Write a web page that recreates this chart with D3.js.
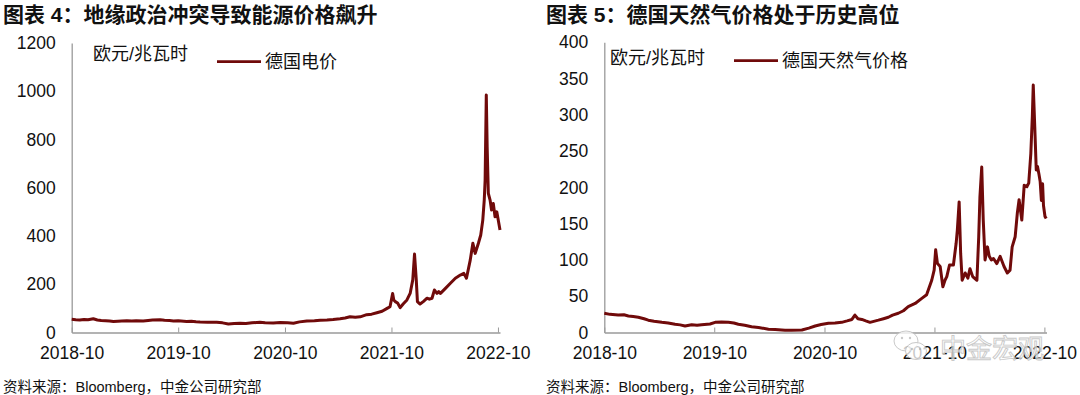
<!DOCTYPE html>
<html>
<head>
    <meta charset="utf-8">
    <title>德国能源价格</title>
    <style>
        body { margin: 0; background: #fff; }
        svg { font-family: "Liberation Sans", Arial, "Noto Sans CJK SC", sans-serif; }
    </style>
</head>
<body>
    <div id="chart"></div>

    <script src="https://cdn.jsdelivr.net/npm/d3@7/dist/d3.min.js"></script>

    <script>
        // ---- data ----
        const elecDates = ["2018-10-01","2018-10-15","2018-10-29","2018-11-12","2018-11-26","2018-12-14","2018-12-28",
            "2019-01-10","2019-01-25","2019-02-08","2019-02-21","2019-03-08","2019-03-22","2019-04-08","2019-04-25",
            "2019-05-10","2019-06-03","2019-06-20","2019-07-05","2019-07-31","2019-08-15","2019-09-01","2019-09-15",
            "2019-10-01","2019-10-30","2019-11-15","2019-12-01","2019-12-15","2020-01-10","2020-02-10","2020-03-01",
            "2020-03-21","2020-04-10","2020-04-30","2020-05-20","2020-06-10","2020-07-07","2020-07-25","2020-08-22",
            "2020-09-15","2020-10-10","2020-10-30","2020-11-20","2020-12-15","2021-01-10","2021-01-30","2021-02-22",
            "2021-03-15","2021-04-08","2021-04-25","2021-05-12","2021-05-30","2021-06-16","2021-07-08","2021-07-25",
            "2021-08-12","2021-08-30","2021-09-16","2021-09-26","2021-10-05","2021-10-09","2021-10-14","2021-10-22",
            "2021-10-31","2021-11-10","2021-11-23","2021-12-04","2021-12-13","2021-12-19","2021-12-25","2021-12-29",
            "2022-01-07","2022-01-18","2022-01-31","2022-02-08","2022-02-17","2022-02-25","2022-03-06","2022-03-12",
            "2022-03-18","2022-04-04","2022-04-21","2022-05-08","2022-05-25","2022-06-06","2022-06-15","2022-06-28",
            "2022-07-07","2022-07-15","2022-07-26","2022-08-03","2022-08-10","2022-08-15","2022-08-18","2022-08-22",
            "2022-08-25","2022-08-29","2022-09-04","2022-09-09","2022-09-15","2022-09-21","2022-09-27","2022-10-02",
            "2022-10-08"];
        const elecValues = [55,53,52,54,53,57,52,
            50,49,48,46,47,48,49,48,
            49,48,50,52,53,51,50,48,
            49,46,47,45,44,43,42,40,
            35,37,38,37,40,42,40,39,
            41,40,38,44,48,49,51,52,
            54,57,60,65,63,65,74,76,
            82,88,100,107,162,135,128,122,
            103,118,135,162,218,325,218,128,
            118,128,142,138,142,176,162,170,
            162,183,204,225,238,245,225,300,
            370,328,370,404,466,549,632,984,
            770,577,549,508,535,480,500,466,
            425];

        const gasDates = ["2018-10-01","2018-10-20","2018-11-16","2018-12-05","2018-12-20","2019-01-05","2019-01-22",
            "2019-02-10","2019-02-24","2019-03-15","2019-04-10","2019-05-01","2019-05-24","2019-06-10","2019-06-26",
            "2019-07-18","2019-08-05","2019-08-20","2019-09-17","2019-10-04","2019-10-25","2019-11-17","2019-12-05",
            "2019-12-20","2020-01-10","2020-02-02","2020-02-25","2020-03-29","2020-04-20","2020-05-23","2020-06-14",
            "2020-07-18","2020-08-10","2020-08-31","2020-09-20","2020-10-14","2020-11-05","2020-11-27","2020-12-15",
            "2020-12-31","2021-01-10","2021-01-20","2021-02-02","2021-02-15","2021-03-01","2021-03-29","2021-04-15",
            "2021-05-01","2021-05-15","2021-06-03","2021-06-20","2021-07-06","2021-07-29","2021-08-20","2021-09-05",
            "2021-09-22","2021-09-30","2021-10-05","2021-10-11","2021-10-20","2021-10-29","2021-11-05","2021-11-11",
            "2021-11-20","2021-12-03","2021-12-12","2021-12-16","2021-12-22","2021-12-27","2022-01-01","2022-01-11",
            "2022-01-20","2022-01-27","2022-02-05","2022-02-19","2022-02-25","2022-03-01","2022-03-07","2022-03-12",
            "2022-03-18","2022-03-26","2022-04-01","2022-04-08","2022-04-15","2022-04-26","2022-05-07","2022-05-20",
            "2022-05-31","2022-06-09","2022-06-16","2022-06-26","2022-07-03","2022-07-09","2022-07-18","2022-07-26",
            "2022-08-04","2022-08-10","2022-08-17","2022-08-22","2022-08-25","2022-08-30","2022-09-04","2022-09-08",
            "2022-09-13","2022-09-17","2022-09-21","2022-09-25","2022-09-28","2022-10-03","2022-10-07"];
        const gasValues = [26.5,25,24,24.5,22.8,22,21,
            19,17,15.5,14,13,11.3,10.5,9,
            10.8,10,10.8,11.7,14,14.5,14,13,
            11.3,10,8,7,4.4,4,3,3,
            3.4,6,9,11,12.7,13,14,16,
            18,24,19,18,16,14,17,19,
            21,24,26.5,30,35.6,40,47,52,
            72,86,114,95,91,63,72,77,
            93,93,123,141,180,109,72,82,
            75,88,77,72,132,187,228,155,
            100,118,105,100,102,95,105,91,
            82,86,118,132,164,183,155,203,
            201,206,247,298,341,284,224,229,
            218,208,182,205,175,160,157];

        const xTickDates = ["2018-10-01","2019-10-01","2020-10-01","2021-10-01","2022-10-01"];
        const xTickLabels = ["2018-10","2019-10","2020-10","2021-10","2022-10"];
        const elecTicks = [0,200,400,600,800,1000,1200];
        const gasTicks = [0,50,100,150,200,250,300,350,400];

        const parse = d3.timeParse("%Y-%m-%d");
        const startDate = parse("2018-10-01");
        const endDate = parse("2022-10-08");
        const lineColor = "#700a0a";
        const axisColor = "#9a9a9a";

        const svg = d3.select("#chart")
                      .append("svg")
                      .attr("width", 1080)
                      .attr("height", 395);

        function drawPanel(opt) {
            const x = d3.scaleTime()
                        .domain([startDate, endDate])
                        .range([opt.left, opt.right]);
            const y = d3.scaleLinear()
                        .domain([0, opt.ticks[opt.ticks.length - 1]])
                        .range([332.5, opt.top]);

            // title
            svg.append("text")
               .attr("x", opt.titleX)
               .attr("y", 14.5)
               .attr("dominant-baseline", "central")
               .attr("font-size", 21)
               .attr("font-weight", "bold")
               .attr("fill", "#111")
               .text(opt.title);

            // x axis, ticks pointing up
            const xAxis = d3.axisBottom(x)
                            .tickValues(xTickDates.map(parse))
                            .tickFormat((d, i) => xTickLabels[i])
                            .tickSizeInner(-5)
                            .tickSizeOuter(0)
                            .tickPadding(14);
            const gx = svg.append("g")
                          .attr("transform", `translate(0, 332.5)`)
                          .call(xAxis);
            gx.attr("font-family", null).attr("font-size", null).style("color", axisColor);
            gx.selectAll("text").attr("fill", "#111").attr("font-size", 17.5);
            gx.select(".domain").attr("stroke-width", 1.3);

            // y axis, no ticks
            const yAxis = d3.axisLeft(y)
                            .tickValues(opt.ticks)
                            .tickFormat(d3.format("d"))
                            .tickSize(0)
                            .tickPadding(16);
            const gy = svg.append("g")
                          .attr("transform", `translate(${opt.left}, 0)`)
                          .call(yAxis);
            gy.attr("font-family", null).attr("font-size", null).style("color", axisColor);
            gy.selectAll("text").attr("fill", "#111").attr("font-size", 17.5);
            gy.select(".domain").attr("stroke-width", 1.3);

            // series
            const data = opt.dates.map((d, i) => ({date: parse(d), value: opt.values[i]}));
            const line = d3.line()
                           .x(d => x(d.date))
                           .y(d => y(d.value));
            svg.append("path")
               .datum(data)
               .attr("fill", "none")
               .attr("stroke", lineColor)
               .attr("stroke-width", 3)
               .attr("stroke-linejoin", "round")
               .attr("d", line);

            // unit + legend
            svg.append("text")
               .attr("x", opt.unitX)
               .attr("y", opt.unitY)
               .attr("dominant-baseline", "central")
               .attr("font-size", 18)
               .attr("fill", "#111")
               .text("欧元/兆瓦时");
            svg.append("line")
               .attr("x1", opt.legX)
               .attr("x2", opt.legX + 44)
               .attr("y1", opt.legY)
               .attr("y2", opt.legY)
               .attr("stroke", lineColor)
               .attr("stroke-width", 2.7);
            svg.append("text")
               .attr("x", opt.legX + 48)
               .attr("y", opt.legY)
               .attr("dominant-baseline", "central")
               .attr("font-size", 18)
               .attr("fill", "#111")
               .text(opt.legend);

            // source
            svg.append("text")
               .attr("x", opt.titleX)
               .attr("y", 386.5)
               .attr("dominant-baseline", "central")
               .attr("font-size", 14.5)
               .attr("fill", "#111")
               .text("资料来源：Bloomberg，中金公司研究部");
        }

        drawPanel({
            title: "图表 4：地缘政治冲突导致能源价格飙升",
            titleX: 3,
            left: 71.7, right: 500, top: 43,
            ticks: elecTicks,
            dates: elecDates, values: elecValues,
            unitX: 93, unitY: 53.5,
            legX: 217, legY: 61.7,
            legend: "德国电价"
        });

        drawPanel({
            title: "图表 5：德国天然气价格处于历史高位",
            titleX: 546,
            left: 604.3, right: 1046.5, top: 42.3,
            ticks: gasTicks,
            dates: gasDates, values: gasValues,
            unitX: 610, unitY: 58.3,
            legX: 734, legY: 60.7,
            legend: "德国天然气价格"
        });

        // watermark (WeChat-style bubbles + account name), drawn over the axis like the original
        const wm = svg.append("g").attr("opacity", 0.9);
        wm.append("ellipse").attr("cx", 906).attr("cy", 341).attr("rx", 12).attr("ry", 10)
          .attr("fill", "#fff").attr("fill-opacity", 0.85).attr("stroke", "#c4c4c4").attr("stroke-width", 1);
        wm.append("ellipse").attr("cx", 916).attr("cy", 351).attr("rx", 10.5).attr("ry", 8.5)
          .attr("fill", "#fff").attr("fill-opacity", 0.85).attr("stroke", "#c4c4c4").attr("stroke-width", 1);
        [[902, 338], [910, 338], [912, 349], [920, 349]].forEach(p => {
            wm.append("circle").attr("cx", p[0]).attr("cy", p[1]).attr("r", 1.2).attr("fill", "#c4c4c4");
        });
        wm.append("text")
          .attr("x", 940)
          .attr("y", 346)
          .attr("dominant-baseline", "central")
          .attr("font-size", 26)
          .attr("font-family", "Noto Sans CJK SC")
          .attr("fill", "#fff")
          .attr("fill-opacity", 0.75)
          .attr("stroke", "#c4c4c4")
          .attr("stroke-width", 0.9)
          .text("中金宏观");
    </script>
</body>
</html>
